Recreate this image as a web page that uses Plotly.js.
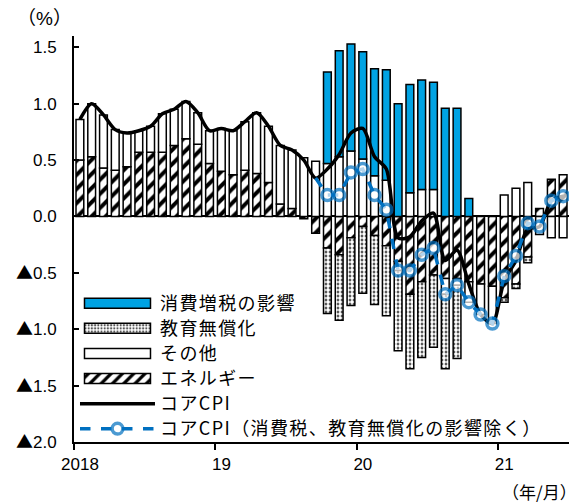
<!DOCTYPE html>
<html><head><meta charset="utf-8">
<script src="https://cdn.plot.ly/plotly-3.0.1.min.js"></script>
<style>html,body{margin:0;padding:0;background:#fff}#chart{width:580px;height:503px}</style>
</head><body><div id="chart"></div>
<script>
// Months: 2018/01 .. 2021/06
const months = [
 '2018/01','2018/02','2018/03','2018/04','2018/05','2018/06','2018/07','2018/08','2018/09','2018/10','2018/11','2018/12',
 '2019/01','2019/02','2019/03','2019/04','2019/05','2019/06','2019/07','2019/08','2019/09','2019/10','2019/11','2019/12',
 '2020/01','2020/02','2020/03','2020/04','2020/05','2020/06','2020/07','2020/08','2020/09','2020/10','2020/11','2020/12',
 '2021/01','2021/02','2021/03','2021/04','2021/05','2021/06'];

// Contributions (%pt)
const energy = [0.50,0.53,0.43,0.41,0.44,0.57,0.57,0.57,0.63,0.69,0.64,0.47,
 0.40,0.37,0.41,0.38,0.30,0.11,0.07,-0.02,-0.15,-0.28,-0.34,-0.19,
 -0.09,-0.17,-0.26,-0.40,-0.69,-0.58,-0.52,-0.55,-0.55,-0.58,-0.60,-0.62,
 -0.72,-0.60,-0.36,0.07,0.33,0.37];
const other = [0.36,0.47,0.47,0.36,0.30,0.19,0.23,0.34,0.32,0.33,0.28,0.29,
 0.38,0.39,0.43,0.54,0.50,0.52,0.52,0.52,0.49,0.47,0.53,0.58,
 0.51,0.36,0.32,-0.08,0.21,0.24,0.24,-0.14,-0.06,-0.18,-0.27,-0.33,
 0.19,0.25,0.30,-0.16,-0.19,-0.19];
const taxHike = [null,null,null,null,null,null,null,null,null,null,null,null,
 null,null,null,null,null,null,null,null,null,0.81,0.94,0.95,
 0.95,0.95,0.98,1.00,0.96,0.97,0.95,0.96,0.96,0.16,null,null,
 null,null,null,null,null,null];
const freeEdu = [null,null,null,null,null,null,null,null,null,null,null,null,
 null,null,null,null,null,null,null,null,null,-0.58,-0.58,-0.60,
 -0.59,-0.61,-0.62,-0.71,-0.66,-0.67,-0.64,-0.66,-0.65,null,null,null,
 -0.04,-0.04,-0.05,null,null,null];
// Lines (y/y %)
const coreCPI = [0.86,1.00,0.90,0.77,0.74,0.76,0.80,0.91,0.95,1.02,0.92,0.76,
 0.78,0.76,0.84,0.92,0.80,0.63,0.59,0.50,0.34,0.42,0.55,0.74,
 0.78,0.53,0.42,-0.19,-0.18,-0.04,0.03,-0.39,-0.30,-0.60,-0.87,-0.95,
 -0.57,-0.39,-0.11,-0.09,0.14,0.18];
const coreExcl = [null,null,null,null,null,null,null,null,null,null,null,null,
 null,null,null,null,null,null,null,null,0.34,0.19,0.19,0.39,
 0.42,0.19,0.06,-0.48,-0.48,-0.34,-0.28,-0.69,-0.61,-0.76,-0.87,-0.95,
 -0.53,-0.35,-0.06,-0.09,0.14,0.18];

const xTickVals = [-0.5, 11.5, 23.5, 35.5];
const xTickText = ['2018','19','20','21'];
const yTickVals = [-2,-1.5,-1,-0.5,0,0.5,1,1.5];
const yTickText = ['▲2.0','▲1.5','▲1.0','▲0.5','0.0','0.5','1.0','1.5'];

const names = {
  tax:'消費増税の影響', edu:'教育無償化', other:'その他', energy:'エネルギー',
  core:'コアCPI', excl:'コアCPI（消費税、教育無償化の影響除く）'
};

const x = months.map((m,i)=>i);
const barW = 0.66;
const outline = {color:'black', width:1.5};
const jp = '"Noto Sans CJK JP", "Noto Sans", sans-serif';
const num = '"Liberation Sans", Arial, "DejaVu Sans", sans-serif';

// legend label styling (same text, wider spacing like the original)
const lg = t => '<span style="font-size:18px;letter-spacing:1.4px">' + t + '</span>';
// triangle glyph in the CJK font so it matches the original's size
const yTickHtml = yTickText.map(t => t.replace('▲', '<span style="font-family:Noto Sans CJK JP">▲</span>'));

const firstExcl = coreExcl.findIndex(v => v !== null);
const exclMarkerSizes = coreExcl.map((v,i)=> i===firstExcl ? 0 : 11);

const traces = [
  {type:'bar', name:lg(names.energy), x:x, y:energy, width:barW, legendrank:4,
   marker:{color:'white', line:outline, pattern:{shape:'/', fgcolor:'black', bgcolor:'white', size:10, solidity:0.4}}},
  {type:'bar', name:lg(names.other), x:x, y:other, width:barW, legendrank:3,
   marker:{color:'white', line:outline}},
  {type:'bar', name:lg(names.tax), x:x, y:taxHike, width:barW, legendrank:1,
   marker:{color:'#00A3E3', line:outline}},
  {type:'bar', name:lg(names.edu), x:x, y:freeEdu, width:barW, legendrank:2,
   marker:{color:'white', line:outline, pattern:{shape:'.', fgcolor:'white', bgcolor:'#111', size:4, solidity:0.75}}},
  {type:'scatter', mode:'lines', name:lg(names.core), x:x, y:coreCPI, legendrank:5,
   line:{color:'black', width:3.5, shape:'spline', smoothing:0.8}},
  {type:'scatter', mode:'lines+markers', name:lg(names.excl), x:x, y:coreExcl, legendrank:6,
   line:{color:'#0070C0', width:3.5, dash:'dash'},
   marker:{symbol:'circle', size:exclMarkerSizes, color:'white', line:{color:'#0070C0', width:3.5}}}
];

const layout = {
  width:580, height:503,
  margin:{l:74, r:11, t:36, b:61},
  paper_bgcolor:'white', plot_bgcolor:'white',
  barmode:'relative', bargap:0,
  showlegend:true,
  legend:{x:0.002, xanchor:'left', y:0.385, yanchor:'top', traceorder:'normal',
    font:{family:jp, size:17, color:'black'}, bgcolor:'rgba(0,0,0,0)', itemwidth:75, tracegroupgap:0},
  xaxis:{range:[-0.5,41.5], tickmode:'array', tickvals:xTickVals, ticktext:xTickText,
    ticks:'outside', ticklen:6, tickwidth:2, tickcolor:'black', ticklabelshift:6,
    showline:true, linecolor:'black', linewidth:2, showgrid:false, zeroline:false,
    tickfont:{family:num, size:17, color:'black'}},
  yaxis:{range:[-2,1.6], tickmode:'array', tickvals:yTickVals, ticktext:yTickHtml,
    ticks:'inside', ticklen:5, tickwidth:2, tickcolor:'black', ticklabelstandoff:12,
    showline:true, linecolor:'black', linewidth:2, showgrid:false,
    zeroline:true, zerolinecolor:'black', zerolinewidth:2,
    tickfont:{family:num, size:17, color:'black'}},
  annotations:[
    {xref:'paper', yref:'paper', x:-0.12, y:1.044, xanchor:'left', yanchor:'middle', showarrow:false,
     text:'（%）', font:{family:'"Liberation Sans", "Noto Sans CJK JP", sans-serif', size:19, color:'black'}},
    {xref:'paper', yref:'paper', x:1.02, y:-0.123, xanchor:'right', yanchor:'middle', showarrow:false,
     text:'（年/月）', font:{family:jp, size:17, color:'black'}}
  ],
  hovermode:false
};

const gdDiv = document.getElementById('chart');
function widenSwatches() {
  // widen the legend swatches of the bar series to long boxes, as in the original legend
  gdDiv.querySelectorAll('g.legendpoints path').forEach(p => {
    const d = (p.getAttribute('d') || '').replace(/\s/g, '');
    if (d === 'M6,6H-6V-6H6Z') p.setAttribute('d', 'M-33,5H33V-5H-33Z');
  });
}
Plotly.newPlot(gdDiv, traces, layout, {staticPlot:true, displayModeBar:false}).then(() => {
  widenSwatches();
  setTimeout(widenSwatches, 50);
  setTimeout(widenSwatches, 300);
});
</script>
</body></html>
